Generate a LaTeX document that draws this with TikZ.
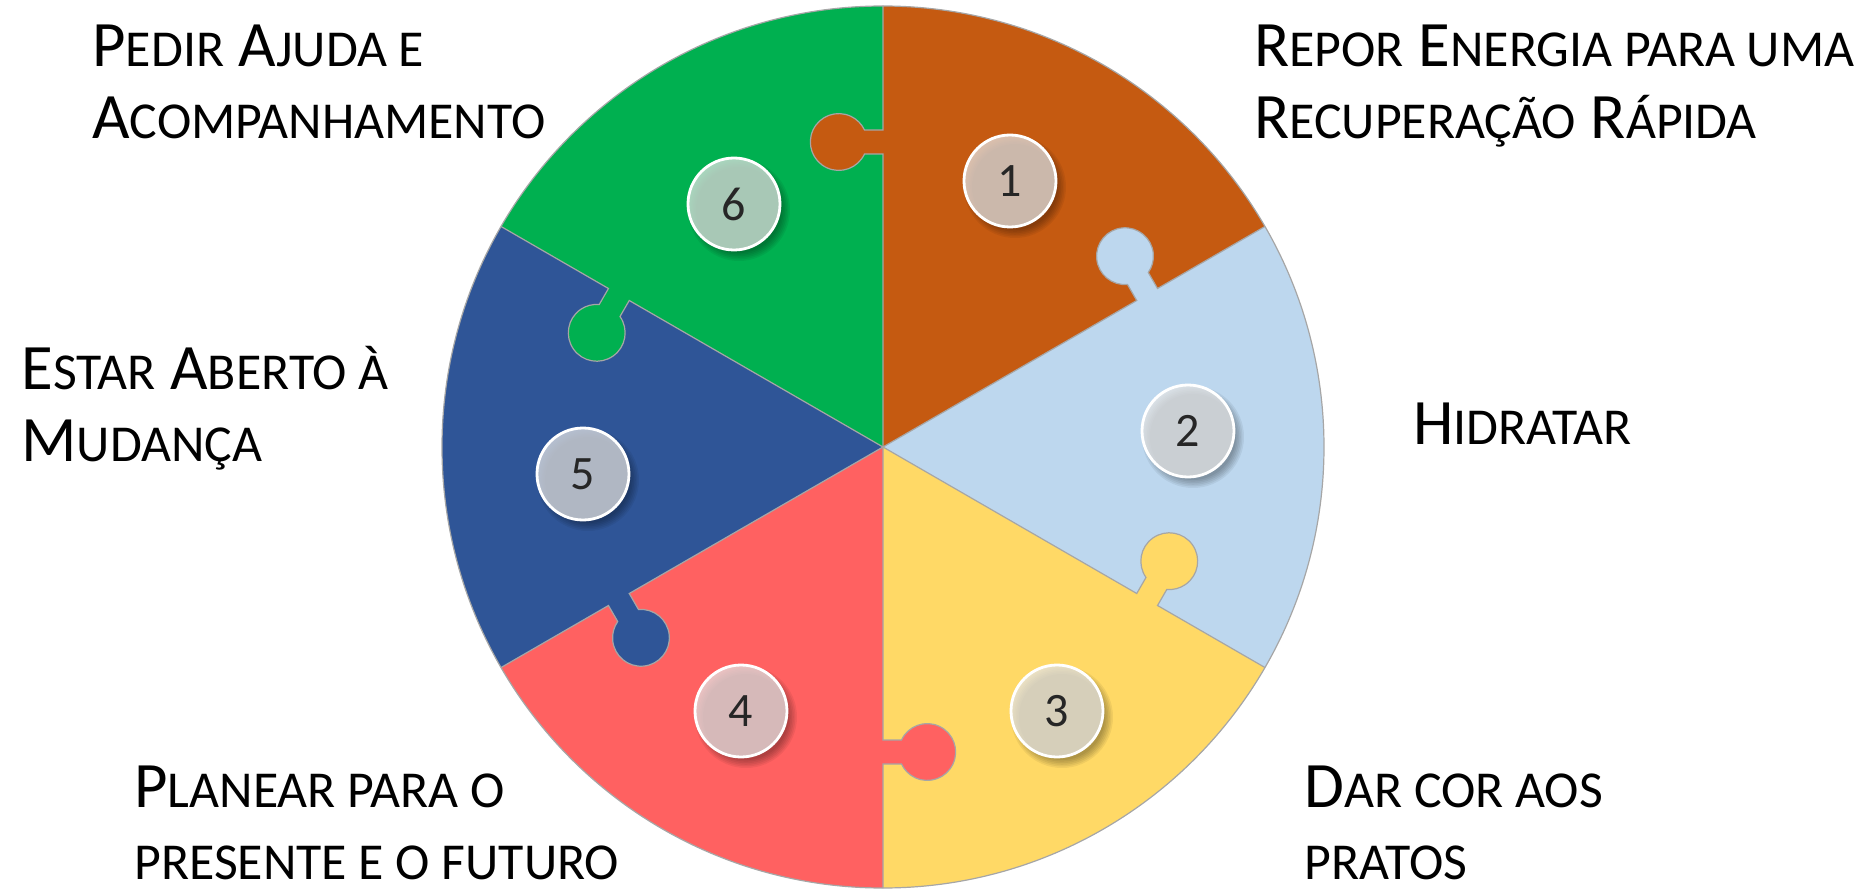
\documentclass[tikz,border=0pt]{standalone}
\usepackage{fontspec}
\setmainfont{Carlito}
\usetikzlibrary{positioning}

\definecolor{pzorange}{HTML}{C55A11}
\definecolor{pzlblue}{HTML}{BDD7EE}
\definecolor{pzyellow}{HTML}{FFD966}
\definecolor{pzred}{HTML}{FF6161}
\definecolor{pzdblue}{HTML}{2F5597}
\definecolor{pzgreen}{HTML}{00B050}
\definecolor{badgegray}{HTML}{E4E4E4}

% small capitals, set by hand
\newcommand\lc[1]{{\fontsize{25.9pt}{36pt}\selectfont #1}}

\begin{document}
\begin{tikzpicture}[x=0.5pt, y=0.5pt,
  itemtext/.style={anchor=base west, align=left, inner sep=0pt,
    font=\fontsize{32.4pt}{36pt}\selectfont},
  badge/.style={circle, minimum size=46pt, inner sep=0pt, draw=white,
    line width=1.4pt, fill=badgegray, fill opacity=0.74, text opacity=1,
    text=black!85, font=\fontsize{24pt}{24pt}\selectfont},
  seam/.style={draw=black!35, line width=0.6pt}]

  \useasboundingbox (-883,-442) rectangle (975,447);

  % the six pieces
  \foreach \i/\col in {1/pzorange,2/pzlblue,3/pzyellow,4/pzred,5/pzdblue,6/pzgreen} {
    \pgfmathsetmacro\a{150-60*\i}
    \pgfmathsetmacro\b{\a-60}
    \fill[\col] (0,0) -- (\b:441) arc[start angle=\b, end angle=\a, radius=441] -- cycle;
  }

  % knob of each piece, pushed into its neighbour
  \foreach \i/\col in {1/pzorange,2/pzlblue,3/pzyellow,4/pzred,5/pzdblue,6/pzgreen} {
    \pgfmathsetmacro\a{150-60*\i}
    \begin{scope}[rotate=\a]
      \fill[\col] (293,-1) -- (293,18.5) arc[start angle=245, end angle=-65, radius=28.4]
        -- (317,-1) -- cycle;
      \draw[seam] (0,0) -- (293,0) -- (293,18.5)
        arc[start angle=245, end angle=-65, radius=28.4] -- (317,0) -- (441,0);
    \end{scope}
  }
  \draw[seam] (0,0) circle[radius=441];

  % numbered badges
  \foreach \n/\p in {1/{(127,266)}, 2/{(305,16)}, 3/{(174,-264)},
                     4/{(-142,-264)}, 5/{(-300,-27)}, 6/{(-149,243)}} {
    \foreach \k in {0,...,5}
      \fill[black, opacity=0.06] \p ++(5,-6) circle[radius=43+\k*1.6];
    \node[badge] (b\n) at \p {\n};
  }

  % captions (anchored on their last line)
  \node[itemtext] (t1) at (371,308) {R\lc{EPOR} E\lc{NERGIA PARA UMA}\\R\lc{ECUPERAÇÃO} R\lc{ÁPIDA}};
  \node[itemtext] (t2) at (530,3) {H\lc{IDRATAR}};
  \node[itemtext] (t3) at (421,-432) {D\lc{AR COR AOS}\\\lc{PRATOS}};
  \node[itemtext] (t4) at (-749,-432) {P\lc{LANEAR PARA O}\\\lc{PRESENTE E O FUTURO}};
  \node[itemtext] (t5) at (-862,-14) {E\lc{STAR} A\lc{BERTO À}\\M\lc{UDANÇA}};
  \node[itemtext] (t6) at (-791,308) {P\lc{EDIR} A\lc{JUDA E}\\A\lc{COMPANHAMENTO}};
\end{tikzpicture}
\end{document}
